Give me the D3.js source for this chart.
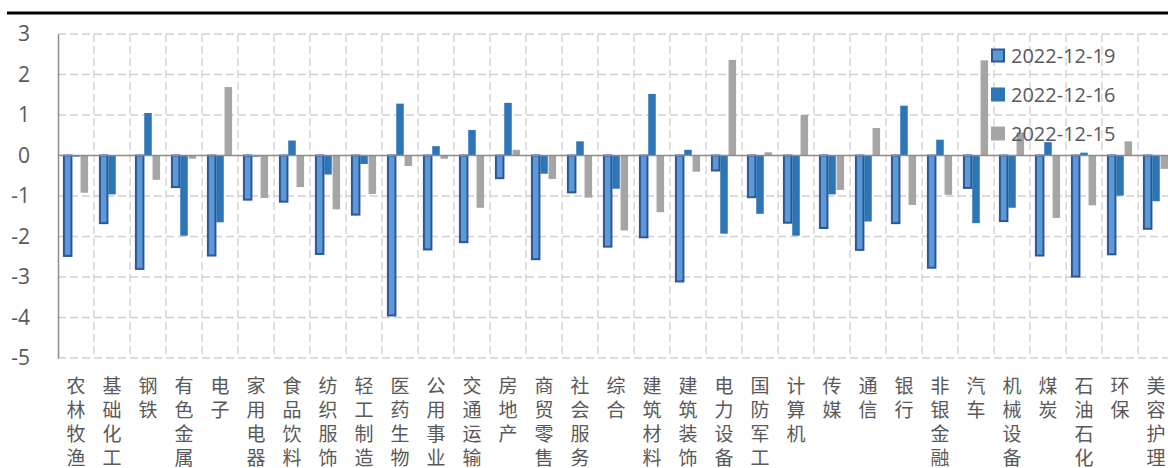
<!DOCTYPE html>
<html lang="zh">
<head>
<meta charset="UTF-8">
<title>行业涨跌幅</title>
<script src="https://cdn.jsdelivr.net/npm/d3@7/dist/d3.min.js"></script>
<style>
  body { margin: 0; background: #fff; }
  svg { display: block; }
</style>
</head>
<body>
<script>
// 行业名称
var categories = ["农林牧渔","基础化工","钢铁","有色金属","电子","家用电器","食品饮料","纺织服饰","轻工制造","医药生物",
  "公用事业","交通运输","房地产","商贸零售","社会服务","综合","建筑材料","建筑装饰","电力设备","国防军工",
  "计算机","传媒","通信","银行","非银金融","汽车","机械设备","煤炭","石油石化","环保","美容护理"];

// 三个日期的涨跌幅(%)
var seriesNames = ["2022-12-19","2022-12-16","2022-12-15"];
var v1219 = [-2.48,-1.67,-2.80,-0.78,-2.47,-1.09,-1.14,-2.43,-1.46,-3.95,
  -2.32,-2.14,-0.56,-2.56,-0.91,-2.25,-2.02,-3.11,-0.37,-1.03,
  -1.66,-1.79,-2.33,-1.67,-2.77,-0.80,-1.62,-2.47,-2.99,-2.44,-1.81];
var v1216 = [-0.03,-0.96,1.05,-1.98,-1.65,-0.03,0.37,-0.47,-0.21,1.28,
  0.23,0.63,1.30,-0.45,0.35,-0.82,1.52,0.14,-1.93,-1.44,
  -1.98,-0.96,-1.63,1.23,0.39,-1.67,-1.29,0.33,0.07,-0.99,-1.13];
var v1215 = [-0.92,0.0,-0.60,-0.08,1.69,-1.05,-0.78,-1.33,-0.95,-0.26,
  -0.08,-1.29,0.14,-0.58,-1.04,-1.85,-1.40,-0.40,2.36,0.08,
  1.00,-0.85,0.68,-1.22,-0.97,2.35,0.57,-1.54,-1.23,0.35,-0.33];
var yTicks = [3,2,1,0,-1,-2,-3,-4,-5];

var ancho = 1168, alto = 468;
var izq = 58, arriba = 34, abajo = 358;
var paso = 36; // ancho de cada categoría

var colores = ["#5B9BD5","#2E75B6","#A5A5A5"];
var valores = [v1219, v1216, v1215];

var svg = d3.select("body").append("svg")
  .attr("width", ancho).attr("height", alto);

var x0 = d3.scaleBand().domain(categories)
  .range([izq, izq + paso * categories.length]);
var x1 = d3.scaleBand().domain(seriesNames)
  .range([5.5, 30.5]);
var y = d3.scaleLinear().domain([-5, 3]).range([abajo, arriba]);

// línea negra superior
svg.append("line")
  .attr("x1", 7).attr("x2", ancho).attr("y1", 13).attr("y2", 13)
  .attr("stroke", "#000").attr("stroke-width", 3);

// rejilla horizontal
svg.append("g").selectAll("line").data(yTicks.filter(function(d){ return d !== 0; }))
  .enter().append("line")
  .attr("x1", izq).attr("x2", izq + paso * categories.length)
  .attr("y1", function(d){ return y(d); }).attr("y2", function(d){ return y(d); })
  .attr("stroke", "#D0D0D0").attr("stroke-width", 1.3)
  .attr("stroke-dasharray", "8,4");

// rejilla vertical
svg.append("g").selectAll("line").data(categories.slice(1))
  .enter().append("line")
  .attr("x1", function(d){ return x0(d); }).attr("x2", function(d){ return x0(d); })
  .attr("y1", arriba).attr("y2", abajo)
  .attr("stroke", "#D0D0D0").attr("stroke-width", 1.3)
  .attr("stroke-dasharray", "8,4");

// eje Y
var ejeY = svg.append("g").attr("transform", "translate(" + izq + ",0)")
  .call(d3.axisLeft(y).tickValues(yTicks).tickSize(0).tickPadding(28)
    .tickFormat(function(d){ return String(d); }));
ejeY.select(".domain").attr("stroke", "#8C8C8C").attr("stroke-width", 1.5);
ejeY.selectAll("text")
  .attr("font-family", "Open Sans, Liberation Sans, sans-serif")
  .attr("font-size", "21px").attr("fill", "#595959");

// barras
seriesNames.forEach(function(s, k) {
  var g = svg.append("g");
  var ancho_barra = x1.bandwidth() - 0.8;
  g.selectAll("rect").data(valores[k]).enter().append("rect")
    .attr("x", function(d, i){ return x0(categories[i]) + x1(s) + 0.4; })
    .attr("y", function(d){ return y(Math.max(0, d)); })
    .attr("width", ancho_barra)
    .attr("height", function(d){ return Math.abs(y(d) - y(0)); })
    .attr("fill", colores[k])
    .attr("stroke", k === 0 ? "#2F5597" : "none")
    .attr("stroke-width", k === 0 ? 2 : 0);
});

// línea de cero
svg.append("line")
  .attr("x1", izq).attr("x2", izq + paso * categories.length)
  .attr("y1", y(0)).attr("y2", y(0))
  .attr("stroke", "#8C8C8C").attr("stroke-width", 1.5);

// etiquetas verticales
var etiquetas = svg.append("g").selectAll("text").data(categories)
  .enter().append("text")
  .attr("text-anchor", "middle")
  .attr("font-family", "Noto Sans CJK SC, sans-serif")
  .attr("font-size", "19px").attr("fill", "#595959");
etiquetas.each(function(d) {
  var t = d3.select(this);
  d.split("").forEach(function(c, j) {
    t.append("tspan")
      .attr("x", x0(d) + paso / 2)
      .attr("y", 393 + j * 24)
      .text(c);
  });
});

// leyenda
var ley = svg.append("g").selectAll("g").data(seriesNames).enter().append("g")
  .attr("transform", function(d, i){ return "translate(991," + (55.5 + i * 39) + ")"; });
ley.append("rect")
  .attr("x", function(d, i){ return i === 0 ? 1 : 0; })
  .attr("y", function(d, i){ return i === 0 ? -6 : -7; })
  .attr("width", function(d, i){ return i === 0 ? 12 : 14; })
  .attr("height", function(d, i){ return i === 0 ? 12 : 14; })
  .attr("fill", function(d, i){ return colores[i]; })
  .attr("stroke", function(d, i){ return i === 0 ? "#2F5597" : "none"; })
  .attr("stroke-width", 2);
ley.append("text")
  .attr("x", 20).attr("y", 0).attr("dy", "0.36em")
  .attr("font-family", "Open Sans, Liberation Sans, sans-serif")
  .attr("font-size", "20px").attr("fill", "#595959")
  .text(function(d){ return d; });
</script>
</body>
</html>
